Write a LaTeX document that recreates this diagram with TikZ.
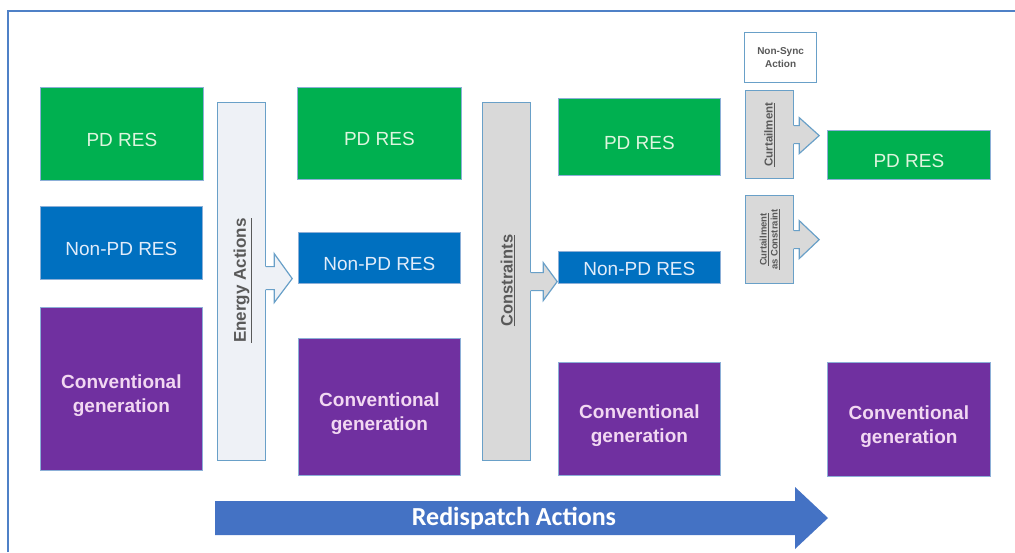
\documentclass[tikz,border=0pt]{standalone}
\usepackage{fontspec}
\setmainfont{Liberation Sans}
\newfontfamily\calib{Carlito}
\usetikzlibrary{calc}
\definecolor{pdgreen}{RGB}{0,176,80}
\definecolor{npblue}{RGB}{0,112,192}
\definecolor{cgpurple}{RGB}{112,48,160}
\definecolor{boxedge}{RGB}{140,175,215}
\definecolor{baredge}{RGB}{105,160,200}
\definecolor{barlight}{RGB}{238,241,246}
\definecolor{bargray}{RGB}{217,217,217}
\definecolor{labelgray}{RGB}{89,89,89}
\definecolor{frameblue}{RGB}{79,129,199}
\definecolor{rdblue}{RGB}{68,114,196}
\definecolor{pdtxt}{RGB}{222,245,222}
\definecolor{nptxt}{RGB}{225,236,250}
\definecolor{cgtxt}{RGB}{242,216,242}
\begin{document}
\begin{tikzpicture}[x=1pt,y=-1pt,
  box/.style={draw=boxedge,line width=0.8pt,inner sep=0pt,anchor=north west},
  pdbox/.style={box,fill=pdgreen},
  npbox/.style={box,fill=npblue},
  cgbox/.style={box,fill=cgpurple},
  pdtext/.style={inner sep=0pt,text=pdtxt,font=\fontsize{19}{23}\selectfont},
  nptext/.style={inner sep=0pt,text=nptxt,font=\fontsize{19}{23}\selectfont},
  cgtext/.style={inner sep=0pt,text=cgtxt,align=center,font=\fontsize{19}{24}\selectfont\bfseries},
  bar/.style={draw=baredge,line width=1.2pt,inner sep=0pt,anchor=north west},
  barlabel/.style={inner sep=0pt,text=labelgray,rotate=90,align=center},
  arrowedge/.style={draw=baredge,line width=1.2pt,line join=miter}
]
\useasboundingbox (0,0) rectangle (1015,552);
% frame
\draw[frameblue,line width=2.5pt] (8,552) -- (8,11) -- (1015,11);

% column 1
\node[pdbox,minimum width=163pt,minimum height=93pt] (pd1) at (40,87) {};
\node[npbox,minimum width=162pt,minimum height=73pt] (np1) at (40,206) {};
\node[cgbox,minimum width=162pt,minimum height=163pt] (cg1) at (40,307) {};
% column 2
\node[pdbox,minimum width=164pt,minimum height=92pt] (pd2) at (297,87) {};
\node[npbox,minimum width=162pt,minimum height=51pt] (np2) at (298,232) {};
\node[cgbox,minimum width=162pt,minimum height=137pt] (cg2) at (298,338) {};
% column 3
\node[pdbox,minimum width=162pt,minimum height=77pt] (pd3) at (558,98) {};
\node[npbox,minimum width=162pt,minimum height=32pt] (np3) at (558,251) {};
\node[cgbox,minimum width=162pt,minimum height=113pt] (cg3) at (558,362) {};
% column 4
\node[pdbox,minimum width=163pt,minimum height=49pt] (pd4) at (827,130) {};
\node[cgbox,minimum width=163pt,minimum height=114pt] (cg4) at (827,362) {};

% texts
\node[pdtext] (tpd1) at ($(pd1.center)+(0,6)$) {PD RES};
\node[nptext] (tnp1) at ($(np1.center)+(0,6)$) {Non-PD RES};
\node[cgtext] (tcg1) at ($(cg1.center)+(0,7)$) {Conventional\\generation};
\node[pdtext] (tpd2) at ($(pd2.center)+(0,6)$) {PD RES};
\node[nptext] (tnp2) at ($(np2.center)+(0,6)$) {Non-PD RES};
\node[cgtext] (tcg2) at ($(cg2.center)+(0,7)$) {Conventional\\generation};
\node[pdtext] (tpd3) at ($(pd3.center)+(0,6)$) {PD RES};
\node[nptext] (tnp3) at ($(np3.center)+(0,2)$) {Non-PD RES};
\node[cgtext] (tcg3) at ($(cg3.center)+(0,7)$) {Conventional\\generation};
\node[pdtext] (tpd4) at ($(pd4.center)+(0,6)$) {PD RES};
\node[cgtext] (tcg4) at ($(cg4.center)+(0,7)$) {Conventional\\generation};

% Energy Actions bar and arrow
\node[bar,fill=barlight,minimum width=48pt,minimum height=358pt] (ea) at (217,102) {};
\fill[barlight] ($(ea.east)+(-2,-15)$) -- ++(10,0) -- ++(0,-13) -- ++(18,25) -- ++(-18,24) -- ++(0,-13) -- ++(-10,0) -- cycle;
\draw[arrowedge] ($(ea.east)+(0,-15)$) -- ++(8,0) -- ++(0,-13) -- ++(18,25) -- ++(-18,24) -- ++(0,-13) -- ++(-8,0);
\node[barlabel,font=\fontsize{17}{20}\selectfont\bfseries] (eal) at ($(ea.center)+(1,-1)$) {\underline{Energy Actions}};

% Constraints bar and arrow
\node[bar,fill=bargray,minimum width=48pt,minimum height=358pt] (cb) at (482,102) {};
\fill[bargray] ($(cb.east)+(-2,-9)$) -- ++(14,0) -- ++(0,-10) -- ++(14,19) -- ++(-14,19) -- ++(0,-10) -- ++(-14,0) -- cycle;
\draw[arrowedge] ($(cb.east)+(0,-9)$) -- ++(12,0) -- ++(0,-10) -- ++(14,19) -- ++(-14,19) -- ++(0,-10) -- ++(-12,0);
\node[barlabel,font=\fontsize{16.5}{18}\selectfont\bfseries] (cbl) at ($(cb.center)+(1,-1)$) {\underline{Constraints}};

% Non-Sync Action
\node[box,draw=baredge,line width=1.2pt,fill=white,minimum width=72pt,minimum height=50pt] (ns) at (744,32) {};
\node[inner sep=0pt,text=labelgray,align=center,font=\fontsize{10}{13}\selectfont\bfseries] (nsl) at (ns.center) {Non-Sync\\Action};

% Curtailment
\node[bar,fill=bargray,minimum width=48pt,minimum height=88pt] (cu) at (745,90) {};
\fill[bargray] ($(cu.east)+(-2,-9)$) -- ++(7,0) -- ++(0,-8) -- ++(20,18) -- ++(-20,18) -- ++(0,-10) -- ++(-7,0) -- cycle;
\draw[arrowedge] ($(cu.east)+(0,-9)$) -- ++(5,0) -- ++(0,-8) -- ++(20,18) -- ++(-20,18) -- ++(0,-10) -- ++(-5,0);
\node[barlabel,font=\fontsize{11.5}{13}\selectfont\bfseries] (cul) at (cu.center) {\underline{Curtailment}};

% Curtailment as Constraint
\node[bar,fill=bargray,minimum width=48pt,minimum height=88pt] (cc) at (745,195) {};
\fill[bargray] ($(cc.east)+(-2,-9)$) -- ++(7,0) -- ++(0,-10) -- ++(20,19) -- ++(-20,19) -- ++(0,-10) -- ++(-7,0) -- cycle;
\draw[arrowedge] ($(cc.east)+(0,-9)$) -- ++(5,0) -- ++(0,-10) -- ++(20,19) -- ++(-20,19) -- ++(0,-10) -- ++(-5,0);
\node[barlabel,font=\fontsize{9.5}{11}\selectfont\bfseries] (ccl) at (cc.center) {\underline{Curtailment}\\\underline{as Constraint}};

% Redispatch Actions arrow
\coordinate (rdtail) at (215,518);
\coordinate (rdtip) at (828,518);
\fill[rdblue] ($(rdtail)+(0,-17)$) -- ($(rdtip)+(-33,-17)$) -- ($(rdtip)+(-33,-31)$) -- (rdtip) -- ($(rdtip)+(-33,31)$) -- ($(rdtip)+(-33,17)$) -- ($(rdtail)+(0,17)$) -- cycle;
\node[inner sep=0pt,text=white,font=\calib\fontsize{26}{29}\selectfont\bfseries] (rdl) at (514,518) {Redispatch Actions};
\end{tikzpicture}
\end{document}
